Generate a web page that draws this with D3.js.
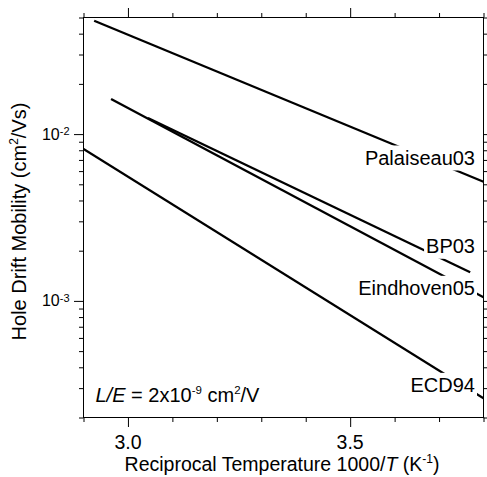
<!DOCTYPE html>
<html><head><meta charset="utf-8">
<script src="https://cdn.jsdelivr.net/npm/d3@7"></script>
<style>
body{margin:0;background:#fff}
svg{display:block}
text{font-family:"Liberation Sans",Arial,Helvetica,sans-serif;fill:#000}
</style>
</head><body>
<svg id="c" width="487" height="477"></svg>
<script>
// ---------- data ----------
const seriesNames = ["Palaiseau03", "BP03", "Eindhoven05", "ECD94"];
// reciprocal temperature 1000/T (1/K) at segment ends
const invT_Palaiseau03 = [2.924, 3.8];
const invT_BP03        = [3.045, 3.770];
const invT_Eindhoven05 = [2.962, 3.8];
const invT_ECD94       = [2.9, 3.8];
// hole drift mobility (cm^2/Vs)
const mu_Palaiseau03 = [0.0478, 0.00518];
const mu_BP03        = [0.01249, 0.001484];
const mu_Eindhoven05 = [0.01623, 0.001051];
const mu_ECD94       = [0.008138, 0.0002606];
// label anchor mobility (baseline of label text)
const labelMu = [0.00653, 0.00193, 0.00108, 0.000283];

const xMajorTicks = [3.0, 3.5];
const xMinorTicks = [2.9, 3.1, 3.2, 3.3, 3.4, 3.6, 3.7, 3.8];
const yMajorTicks = [1e-3, 1e-2];
const yMajorLabels = [["10", "-3"], ["10", "-2"]];
const yMinorTicks = [2e-4,3e-4,4e-4,5e-4,6e-4,7e-4,8e-4,9e-4,
                     2e-3,3e-3,4e-3,5e-3,6e-3,7e-3,8e-3,9e-3,
                     2e-2,3e-2,4e-2,5e-2];
const xDomain = [2.9, 3.8];
const yDomain = [2e-4, 5e-2];

const series = [
  {name: seriesNames[0], x: invT_Palaiseau03, y: mu_Palaiseau03, lab: labelMu[0]},
  {name: seriesNames[1], x: invT_BP03, y: mu_BP03, lab: labelMu[1]},
  {name: seriesNames[2], x: invT_Eindhoven05, y: mu_Eindhoven05, lab: labelMu[2]},
  {name: seriesNames[3], x: invT_ECD94, y: mu_ECD94, lab: labelMu[3]}
];

// ---------- layout ----------
const L = 83.5, T = 17.5, W = 400, H = 400;
const FS = 20;
const svg = d3.select("#c");
const x = d3.scaleLinear().domain(xDomain).range([L, L + W]);
const y = d3.scaleLog().domain(yDomain).range([T + H, T]);

svg.append("clipPath").attr("id", "clip")
  .append("rect").attr("x", L).attr("y", T).attr("width", W).attr("height", H);

// lines
const line = d3.line().x(d => x(d[0])).y(d => y(d[1]));
const gl = svg.append("g").attr("clip-path", "url(#clip)");
series.forEach(s => {
  gl.append("path")
    .datum(s.x.map((v, i) => [v, s.y[i]]))
    .attr("d", line)
    .attr("fill", "none").attr("stroke", "#000").attr("stroke-width", 2.3);
});

// series labels with white boxes
series.forEach(s => {
  const g = svg.append("g");
  const t = g.append("text")
    .attr("x", L + W - 8.5).attr("y", y(s.lab))
    .attr("text-anchor", "end").attr("font-size", FS)
    .text(s.name);
  const b = t.node().getBBox();
  g.insert("rect", "text")
    .attr("x", b.x - 2).attr("y", b.y - 1.5)
    .attr("width", b.width + 4).attr("height", b.height + 3)
    .attr("fill", "#fff");
});

// axes
function styleAxis(g) {
  g.select(".domain").remove();
  g.selectAll("line").attr("stroke", "#000").attr("stroke-width", 1);
  g.selectAll("text").remove();
}
const majLen = 9.5, minLen = 4.5;
svg.append("g").attr("transform", `translate(0,${T + H})`)
  .call(d3.axisBottom(x).tickValues(xMajorTicks).tickSize(majLen)).call(styleAxis);
svg.append("g").attr("transform", `translate(0,${T + H})`)
  .call(d3.axisBottom(x).tickValues(xMinorTicks).tickSize(minLen)).call(styleAxis);
svg.append("g").attr("transform", `translate(0,${T})`)
  .call(d3.axisTop(x).tickValues(xMajorTicks).tickSize(majLen)).call(styleAxis);
svg.append("g").attr("transform", `translate(0,${T})`)
  .call(d3.axisTop(x).tickValues(xMinorTicks).tickSize(minLen)).call(styleAxis);
svg.append("g").attr("transform", `translate(${L},0)`)
  .call(d3.axisLeft(y).tickValues(yMajorTicks).tickSize(majLen)).call(styleAxis);
svg.append("g").attr("transform", `translate(${L},0)`)
  .call(d3.axisLeft(y).tickValues(yMinorTicks).tickSize(minLen)).call(styleAxis);
svg.append("g").attr("transform", `translate(${L + W},0)`)
  .call(d3.axisRight(y).tickValues(yMajorTicks).tickSize(majLen)).call(styleAxis);
svg.append("g").attr("transform", `translate(${L + W},0)`)
  .call(d3.axisRight(y).tickValues(yMinorTicks).tickSize(minLen)).call(styleAxis);

svg.append("rect").attr("x", L).attr("y", T).attr("width", W).attr("height", H)
  .attr("fill", "none").attr("stroke", "#000").attr("stroke-width", 1);

// tick labels
xMajorTicks.forEach(v => {
  svg.append("text").attr("x", x(v)).attr("y", T + H + 31.5)
    .attr("text-anchor", "middle").attr("font-size", 19.5).text(v.toFixed(1));
});
yMajorTicks.forEach((v, i) => {
  const t = svg.append("text").attr("x", L - 14).attr("y", y(v) + 5.5)
    .attr("text-anchor", "end").attr("font-size", 16);
  t.append("tspan").text(yMajorLabels[i][0]);
  t.append("tspan").attr("font-size", 11).attr("dy", -4.5).text(yMajorLabels[i][1]);
});

// rich text helper
function rich(t, parts, supSize, supShift) {
  let shifted = false;
  parts.forEach(p => {
    const ts = t.append("tspan").text(p.t);
    if (p.i) ts.attr("font-style", "italic");
    if (p.sup) {
      ts.attr("font-size", supSize).attr("dy", -supShift);
      shifted = true;
    } else if (shifted) {
      ts.attr("dy", supShift);
      shifted = false;
    }
  });
}

// x title
const xt = svg.append("text").attr("x", 282).attr("y", 470.5)
  .attr("text-anchor", "middle").attr("font-size", 19.5);
rich(xt, [{t: "Reciprocal Temperature 1000/"}, {t: "T", i: true}, {t: " (K"},
          {t: "-1", sup: true}, {t: ")"}], 12, 8);

// y title
const yt = svg.append("text")
  .attr("transform", `translate(25.5,${T + H / 2 + 4}) rotate(-90)`)
  .attr("text-anchor", "middle").attr("font-size", FS);
rich(yt, [{t: "Hole Drift Mobility (cm"}, {t: "2", sup: true}, {t: "/Vs)"}], 12, 8);

// annotation
const an = svg.append("text").attr("x", 95.5).attr("y", 401.7).attr("font-size", FS);
rich(an, [{t: "L/E", i: true}, {t: " = 2x10"}, {t: "-9", sup: true}, {t: " cm"},
          {t: "2", sup: true}, {t: "/V"}], 11.5, 8);
</script>
</body></html>
